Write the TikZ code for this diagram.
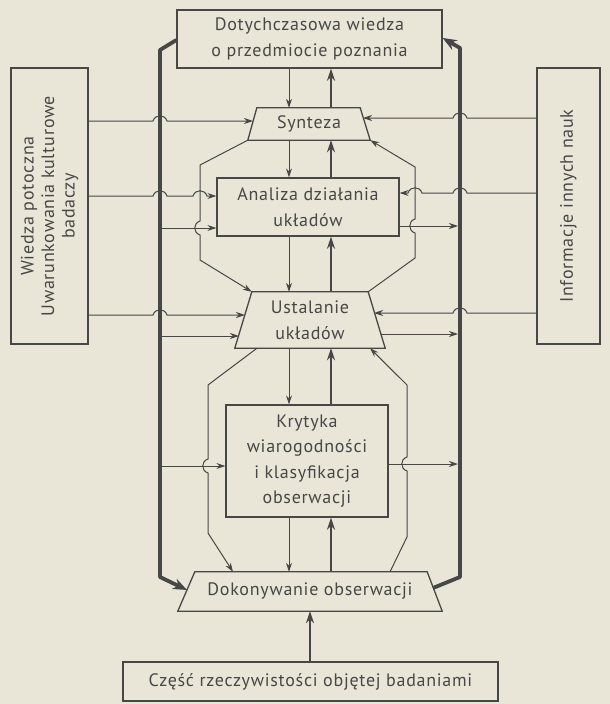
\documentclass[tikz,border=0pt]{standalone}
\usepackage{fontspec}
\setmainfont[LetterSpace=4]{PT Sans}
\usetikzlibrary{arrows.meta,calc}
\definecolor{bg}{HTML}{E9E6D7}
\definecolor{ink}{HTML}{474747}
\newcommand\hopR[2]{-- (#1-7,#2) .. controls (#1-5,#2-7) and (#1+5,#2-7) .. (#1+7,#2)}
\newcommand\hopL[2]{-- (#1+7,#2) .. controls (#1+5,#2-7) and (#1-5,#2-7) .. (#1-7,#2)}
\newcommand\bumpD[2]{-- (#1,#2-7) .. controls (#1-7,#2-5) and (#1-7,#2+5) .. (#1,#2+7)}
\newcommand\bumpU[2]{-- (#1,#2+7) .. controls (#1-7,#2+5) and (#1-7,#2-5) .. (#1,#2-7)}
\begin{document}
\begin{tikzpicture}[x=1pt,y=-1pt,
  txt/.style={text=ink, align=center, inner sep=0pt, font=\fontsize{18}{25.5}\selectfont},
  box/.style={txt, draw=ink, line width=1.3pt},
  outl/.style={draw=ink, line width=1.3pt, line join=miter},
  thin/.style={draw=ink, line width=1pt, -{Stealth[length=9pt,width=6pt]}},
  mid/.style={draw=ink, line width=2.3pt, -{Stealth[length=12pt,width=8pt]}},
  bus/.style={draw=ink, line width=3.8pt, line join=round, -{Stealth[length=14pt,width=11pt]}}]
\fill[bg] (0,0) rectangle (610,704);
\useasboundingbox (0,0) rectangle (610,704);

% boxes
\node[box, minimum width=265pt, minimum height=58pt] (top) at (309.5,39) {Dotychczasowa wiedza\\o przedmiocie poznania};
\node[box, rotate=90, minimum width=276pt, minimum height=77pt, font=\fontsize{18}{20.5}\selectfont] (lw) at (49.5,206) {Wiedza potoczna\\Uwarunkowania kulturowe\\badaczy};
\node[box, rotate=90, minimum width=276pt, minimum height=63pt] (rw) at (568.5,206) {Informacje innych nauk};
\node[txt, minimum width=122pt, minimum height=32pt] (synt) at (309,124) {Synteza};
\node[box, minimum width=182pt, minimum height=58pt] (anal) at (308,207) {Analiza działania\\układów};
\node[txt, minimum width=150pt, minimum height=56pt] (ust) at (310,320) {Ustalanie\\układów};
\node[box, minimum width=162pt, minimum height=112pt] (kryt) at (307,461) {Krytyka\\wiarogodności\\i klasyfikacja\\obserwacji};
\node[txt, minimum width=264pt, minimum height=39pt] (dok) at (310,591.5) {Dokonywanie obserwacji};
\node[box, minimum width=375pt, minimum height=39pt] (bot) at (310.5,681.5) {Część rzeczywistości objętej badaniami};

% trapezoid outlines
\draw[outl] ($(synt.north west)+(9,0)$) -- ($(synt.north east)+(-10,0)$) -- (synt.south east) -- (synt.south west) -- cycle;
\draw[outl] ($(ust.north west)+(17,0)$) coordinate (ustNW) -- ($(ust.north east)+(-17,0)$) coordinate (ustNE) -- (ust.south east) -- (ust.south west) -- cycle;
\draw[outl] ($(dok.north west)+(17,0)$) -- ($(dok.north east)+(-15,0)$) -- (dok.south east) -- (dok.south west) -- cycle;

% central vertical arrows
\draw[thin] (top.south -| 289,0) -- (synt.north -| 289,0);
\draw[mid] (synt.north -| 331,0) -- (top.south -| 331,0);
\draw[thin] (synt.south -| 289,0) -- (anal.north -| 289,0);
\draw[mid] (anal.north -| 331,0) -- (synt.south -| 331,0);
\draw[thin] (anal.south -| 289,0) -- (ust.north -| 289,0);
\draw[mid] (ust.north -| 331,0) -- (anal.south -| 331,0);
\draw[thin] (ust.south -| 289,0) -- (kryt.north -| 289,0);
\draw[mid] (kryt.north -| 331,0) -- (ust.south -| 331,0);
\draw[thin] (kryt.south -| 289,0) -- (dok.north -| 289,0);
\draw[mid] (dok.north -| 331,0) -- (kryt.south -| 331,0);
\draw[mid, line width=2.8pt] (bot.north -| 310,0) -- (dok.south -| 310,0);

% outer buses
\coordinate (dokL) at (187,590);
\coordinate (dokR) at (433,588);
\draw[bus] (top.west |- 0,40) -- (160,50) -- (160,577) -- (dokL);
\draw[bus] (dokR) -- (460,577) -- (460,48) -- (top.east |- 0,38);

% from left box
\draw[thin] (lw.south |- 0,121) \hopR{160}{121} -- (253,121);
\draw[thin] (lw.south |- 0,196) \hopR{160}{196} \hopR{200}{196} -- (anal.west |- 0,196);
\draw[thin] (lw.south |- 0,315) \hopR{160}{315} -- (245,315);
% from left bus
\draw[thin] (160,228) -- (anal.west |- 0,228);
\draw[thin] (160,336) -- (239,336);
\draw[thin] (160,466) -- (kryt.west |- 0,466);

% from right box
\draw[thin] (rw.north |- 0,118) \hopL{460}{118} -- (363,118);
\draw[thin] (rw.north |- 0,193) \hopL{460}{193} \hopL{415}{193} -- (anal.east |- 0,193);
\draw[thin] (rw.north |- 0,313) \hopL{460}{313} -- (374,313);
% to right bus
\draw[thin] (anal.east |- 0,226) -- (458,226);
\draw[thin] (381,334) -- (458,334);
\draw[thin] (kryt.east |- 0,464) -- (458,464);

% side loops
\draw[thin] (synt.south west) -- (200,165) \bumpD{200}{228} -- (200,260) -- (ustNW);
\draw[thin] (ustNE) -- (415,258) \bumpU{415}{226} -- (415,167) -- (synt.south east);
\draw[thin] (ust.south -| 257,0) -- (208,385) \bumpD{208}{466} -- (208,533) -- (dok.north -| 233,0);
\draw[thin] (dok.north -| 390,0) -- (407,537) \bumpU{407}{464} -- (407,385) -- (ust.south -| 370,0);
\end{tikzpicture}
\end{document}
